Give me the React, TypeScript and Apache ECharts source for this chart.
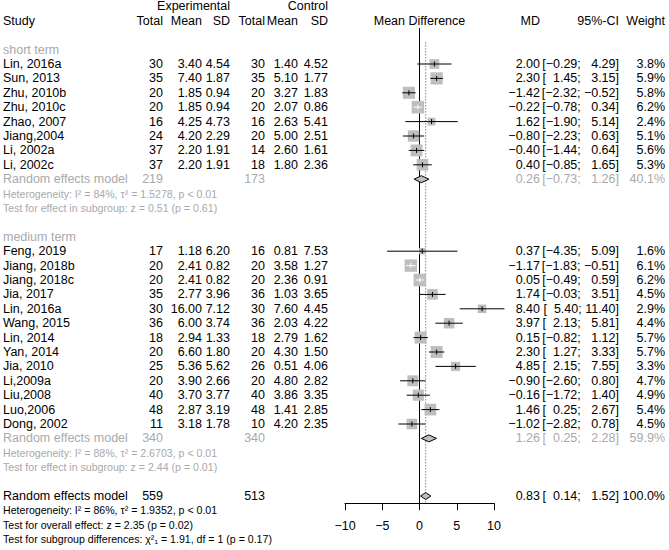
import React, { useEffect, useRef } from "react";
import * as echarts from "echarts";

// ---------- data ----------
const shortStudies = ["Lin, 2016a", "Sun, 2013", "Zhu, 2010b", "Zhu, 2010c", "Zhao, 2007", "Jiang,2004", "Li, 2002a", "Li, 2002c"];
const shortExpN = [30, 35, 20, 20, 16, 24, 37, 37];
const shortExpMean = [3.4, 7.4, 1.85, 1.85, 4.25, 4.2, 2.2, 2.2];
const shortExpSD = [4.54, 1.87, 0.94, 0.94, 4.73, 2.29, 1.91, 1.91];
const shortCtrlN = [30, 35, 20, 20, 16, 20, 14, 18];
const shortCtrlMean = [1.4, 5.1, 3.27, 2.07, 2.63, 5.0, 2.6, 1.8];
const shortCtrlSD = [4.52, 1.77, 1.83, 0.86, 5.41, 2.51, 1.61, 2.36];
const shortMD = [2.0, 2.3, -1.42, -0.22, 1.62, -0.8, -0.4, 0.4];
const shortLo = [-0.29, 1.45, -2.32, -0.78, -1.9, -2.23, -1.44, -0.85];
const shortHi = [4.29, 3.15, -0.52, 0.34, 5.14, 0.63, 0.64, 1.65];
const shortW = [3.8, 5.9, 5.8, 6.2, 2.4, 5.1, 5.6, 5.3];

const medStudies = ["Feng, 2019", "Jiang, 2018b", "Jiang, 2018c", "Jia, 2017", "Lin, 2016a", "Wang, 2015", "Lin, 2014", "Yan, 2014", "Jia, 2010", "Li,2009a", "Liu,2008", "Luo,2006", "Dong, 2002"];
const medExpN = [17, 20, 20, 35, 30, 36, 18, 20, 25, 20, 40, 48, 11];
const medExpMean = [1.18, 2.41, 2.41, 2.77, 16.0, 6.0, 2.94, 6.6, 5.36, 3.9, 3.7, 2.87, 3.18];
const medExpSD = [6.2, 0.82, 0.82, 3.96, 7.12, 3.74, 1.33, 1.8, 5.62, 2.66, 3.77, 3.19, 1.78];
const medCtrlN = [16, 20, 20, 36, 30, 36, 18, 20, 26, 20, 40, 48, 10];
const medCtrlMean = [0.81, 3.58, 2.36, 1.03, 7.6, 2.03, 2.79, 4.3, 0.51, 4.8, 3.86, 1.41, 4.2];
const medCtrlSD = [7.53, 1.27, 0.91, 3.65, 4.45, 4.22, 1.62, 1.5, 4.06, 2.82, 3.35, 2.85, 2.35];
const medMD = [0.37, -1.17, 0.05, 1.74, 8.4, 3.97, 0.15, 2.3, 4.85, -0.9, -0.16, 1.46, -1.02];
const medLo = [-4.35, -1.83, -0.49, -0.03, 5.4, 2.13, -0.82, 1.27, 2.15, -2.6, -1.72, 0.25, -2.82];
const medHi = [5.09, -0.51, 0.59, 3.51, 11.4, 5.81, 1.12, 3.33, 7.55, 0.8, 1.4, 2.67, 0.78];
const medW = [1.6, 6.1, 6.2, 4.5, 2.9, 4.4, 5.7, 5.7, 3.3, 4.7, 4.9, 5.4, 4.5];

// pooled: [short, medium, overall]
const poolLabels = ["Random effects model", "Random effects model", "Random effects model"];
const poolExpN = [219, 340, 559];
const poolCtrlN = [173, 340, 513];
const poolMD = [0.26, 1.26, 0.83];
const poolLo = [-0.73, 0.25, 0.14];
const poolHi = [1.26, 2.28, 1.52];
const poolW = [40.1, 59.9, 100.0];

const subgroupNames = ["short term", "medium term"];
const shortStats = ["Heterogeneity: I\u00B2 = 84%, \u03C4\u00B2 = 1.5278, p < 0.01", "Test for effect in subgroup: z = 0.51 (p = 0.61)"];
const medStats = ["Heterogeneity: I\u00B2 = 88%, \u03C4\u00B2 = 2.6703, p < 0.01", "Test for effect in subgroup: z = 2.44 (p = 0.01)"];
const overallStats = [
  "Heterogeneity: I\u00B2 = 86%, \u03C4\u00B2 = 1.9352, p < 0.01",
  "Test for overall effect: z = 2.35 (p = 0.02)",
  "Test for subgroup differences: \u03C7\u00B2\u2081 = 1.91, df = 1 (p = 0.17)",
];
const xTicks = [-10, -5, 0, 5, 10];

// ---------- helpers ----------
const FONT = "'Liberation Sans', Arial, Helvetica, sans-serif";
const GREY = "#a9a9a9";
const FS = 12.5;
const FS_SM = 10.6;
const ROW0 = 6.4;
const ROWH = 14.4;
const rowY = (r: number) => ROW0 + ROWH * r;
const minus = (s: string) => s.replace(/-/g, "\u2212");
const f2 = (v: number) => minus(v.toFixed(2));
const pad5 = (v: number) => {
  const s = f2(v);
  return "\u2007".repeat(Math.max(0, 5 - s.length)) + s;
};
const ciStr = (lo: number, hi: number) => `[${pad5(lo)}; ${pad5(hi)}]`;

const COL = { study: 3, expN: 163, expMean: 202, expSD: 230, ctrlN: 265, ctrlMean: 298, ctrlSD: 328, md: 540, ci: 619, w: 665, mdHead: 419.5 };

function txt(x: number, r: number, text: string, align = "right", color = "#000", size = FS) {
  return {
    type: "text",
    x,
    y: rowY(r),
    silent: true,
    style: { text, fill: color, fontSize: size, fontFamily: FONT, textAlign: align, textVerticalAlign: "middle" },
  };
}

function buildGraphics() {
  const g: any[] = [];
  g.push(txt(COL.expSD, 0, "Experimental"));
  g.push(txt(COL.ctrlSD, 0, "Control"));
  g.push(txt(COL.study, 1, "Study", "left"));
  g.push(txt(COL.expN, 1, "Total"));
  g.push(txt(COL.expMean, 1, "Mean"));
  g.push(txt(COL.expSD, 1, "SD"));
  g.push(txt(COL.ctrlN, 1, "Total"));
  g.push(txt(COL.ctrlMean, 1, "Mean"));
  g.push(txt(COL.ctrlSD, 1, "SD"));
  g.push(txt(COL.mdHead, 1, "Mean Difference", "center"));
  g.push(txt(COL.md, 1, "MD"));
  g.push(txt(COL.ci, 1, "95%-CI"));
  g.push(txt(COL.w, 1, "Weight"));

  const addStudies = (start: number, names: string[], eN: number[], eM: number[], eS: number[], cN: number[], cM: number[], cS: number[], md: number[], lo: number[], hi: number[], w: number[]) => {
    names.forEach((n, i) => {
      const r = start + i;
      g.push(txt(COL.study, r, n, "left"));
      g.push(txt(COL.expN, r, String(eN[i])));
      g.push(txt(COL.expMean, r, f2(eM[i])));
      g.push(txt(COL.expSD, r, f2(eS[i])));
      g.push(txt(COL.ctrlN, r, String(cN[i])));
      g.push(txt(COL.ctrlMean, r, f2(cM[i])));
      g.push(txt(COL.ctrlSD, r, f2(cS[i])));
      g.push(txt(COL.md, r, f2(md[i])));
      g.push(txt(COL.ci, r, ciStr(lo[i], hi[i])));
      g.push(txt(COL.w, r, w[i].toFixed(1) + "%"));
    });
  };
  const addPool = (r: number, k: number, color: string) => {
    g.push(txt(COL.study, r, poolLabels[k], "left", color));
    g.push(txt(COL.expN, r, String(poolExpN[k]), "right", color));
    g.push(txt(COL.ctrlN, r, String(poolCtrlN[k]), "right", color));
    g.push(txt(COL.md, r, f2(poolMD[k]), "right", color));
    g.push(txt(COL.ci, r, ciStr(poolLo[k], poolHi[k]), "right", color));
    g.push(txt(COL.w, r, poolW[k].toFixed(1) + "%", "right", color));
  };

  g.push(txt(COL.study, 3, subgroupNames[0], "left", GREY));
  addStudies(4, shortStudies, shortExpN, shortExpMean, shortExpSD, shortCtrlN, shortCtrlMean, shortCtrlSD, shortMD, shortLo, shortHi, shortW);
  addPool(12, 0, GREY);
  shortStats.forEach((s, i) => g.push(txt(COL.study, 13 + i, s, "left", GREY, FS_SM)));

  g.push(txt(COL.study, 16, subgroupNames[1], "left", GREY));
  addStudies(17, medStudies, medExpN, medExpMean, medExpSD, medCtrlN, medCtrlMean, medCtrlSD, medMD, medLo, medHi, medW);
  addPool(30, 1, GREY);
  medStats.forEach((s, i) => g.push(txt(COL.study, 31 + i, s, "left", GREY, FS_SM)));

  addPool(34, 2, "#000");
  overallStats.forEach((s, i) => g.push(txt(COL.study, 35 + i, s, "left", "#000", FS_SM)));
  return g;
}

export default function App() {
  const ref = useRef<HTMLDivElement>(null);
  useEffect(() => {
    document.body.style.margin = "0";
    if (!ref.current) return;
    const chart = echarts.init(ref.current, null, { renderer: "svg" });

    const studyData: number[][] = [];
    shortMD.forEach((m, i) => studyData.push([m, 4 + i, shortLo[i], shortHi[i], shortW[i]]));
    medMD.forEach((m, i) => studyData.push([m, 17 + i, medLo[i], medHi[i], medW[i]]));
    const poolRows = [12, 30, 34];
    const diamondData = poolMD.map((m, k) => [m, poolRows[k], poolLo[k], poolHi[k]]);

    chart.setOption({
      animation: false,
      grid: { left: 345, top: 0, width: 149, height: 503.2 },
      xAxis: {
        type: "value",
        min: -10,
        max: 10,
        interval: 5,
        axisLine: { show: true, onZero: false, lineStyle: { color: "#000", width: 1 } },
        axisTick: { show: true, inside: false, length: 7, lineStyle: { color: "#000", width: 1 } },
        axisLabel: {
          color: "#000",
          fontSize: FS,
          fontFamily: FONT,
          margin: 16,
          formatter: (v: number) => (xTicks.includes(v) ? minus(String(v)) : ""),
        },
        splitLine: { show: false },
      },
      yAxis: { type: "value", inverse: true, min: -ROW0 / ROWH, max: 34.5, show: false },
      graphic: buildGraphics(),
      series: [
        {
          type: "line",
          data: [[0, 1.5], [0, 34.5]],
          symbol: "none",
          silent: true,
          z: 1,
          lineStyle: { color: "#000", width: 1 },
        },
        {
          type: "line",
          data: [[poolMD[2], 2.5], [poolMD[2], 34.5]],
          symbol: "none",
          silent: true,
          z: 1,
          lineStyle: { color: "#444", width: 1, type: [1, 2] },
        },
        {
          type: "custom",
          z: 3,
          silent: true,
          clip: false,
          data: studyData,
          renderItem: (params: any, api: any) => {
            const md = api.value(0), r = api.value(1), lo = api.value(2), hi = api.value(3), w = api.value(4);
            const c = api.coord([md, r]);
            const cl = api.coord([lo, r]);
            const ch = api.coord([hi, r]);
            const side = 12.5 * Math.sqrt(w / 6.2);
            const inside = ch[0] - cl[0] < side;
            const lc = inside ? "#fff" : "#000";
            return {
              type: "group",
              children: [
                { type: "rect", shape: { x: c[0] - side / 2, y: c[1] - side / 2, width: side, height: side }, style: { fill: "#bebebe" } },
                { type: "line", shape: { x1: cl[0], y1: c[1], x2: ch[0], y2: c[1] }, style: { stroke: lc, lineWidth: 1 } },
                { type: "line", shape: { x1: c[0], y1: c[1] - 2.5, x2: c[0], y2: c[1] + 2.5 }, style: { stroke: lc, lineWidth: 1 } },
              ],
            };
          },
        },
        {
          type: "custom",
          z: 3,
          silent: true,
          clip: false,
          data: diamondData,
          renderItem: (params: any, api: any) => {
            const md = api.value(0), r = api.value(1), lo = api.value(2), hi = api.value(3);
            const c = api.coord([md, r]);
            const cl = api.coord([lo, r]);
            const ch = api.coord([hi, r]);
            const h = 3.5;
            return {
              type: "polygon",
              shape: { points: [[cl[0], c[1]], [c[0], c[1] - h], [ch[0], c[1]], [c[0], c[1] + h]] },
              style: { fill: "#bebebe", stroke: "#000", lineWidth: 1 },
            };
          },
        },
      ],
    });
    return () => chart.dispose();
  }, []);
  return <div ref={ref} style={{ width: 669, height: 550 }} />;
}
